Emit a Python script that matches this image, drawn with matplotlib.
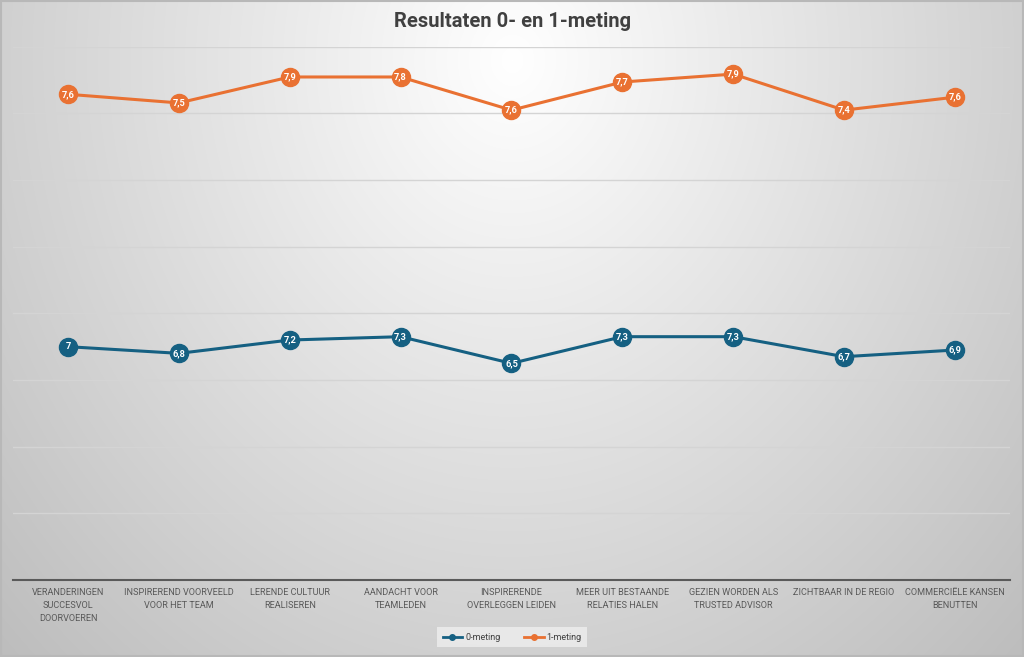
import numpy as np
import matplotlib
matplotlib.use("Agg")
import matplotlib.pyplot as plt
from matplotlib.lines import Line2D

# --- Data ---
categories = [
    "VERANDERINGEN\nSUCCESVOL\nDOORVOEREN",
    "INSPIREREND VOORVEELD\nVOOR HET TEAM",
    "LERENDE CULTUUR\nREALISEREN",
    "AANDACHT VOOR\nTEAMLEDEN",
    "INSPIRERENDE\nOVERLEGGEN LEIDEN",
    "MEER UIT BESTAANDE\nRELATIES HALEN",
    "GEZIEN WORDEN ALS\nTRUSTED ADVISOR",
    "ZICHTBAAR IN DE REGIO",
    "COMMERCIËLE KANSEN\nBENUTTEN",
]
meting0 = [7.0, 6.8, 7.2, 7.3, 6.5, 7.3, 7.3, 6.7, 6.9]
labels0 = ["7", "6,8", "7,2", "7,3", "6,5", "7,3", "7,3", "6,7", "6,9"]
# 1-meting sits on its own (hidden) secondary axis in the original chart
meting1 = [7.64, 7.52, 7.88, 7.88, 7.42, 7.81, 7.92, 7.42, 7.60]
labels1 = ["7,6", "7,5", "7,9", "7,8", "7,6", "7,7", "7,9", "7,4", "7,6"]

blauw = "#156082"
oranje = "#E97132"
plt.rcParams["font.family"] = ["Roboto", "DejaVu Sans"]

fig = plt.figure(figsize=(10.24, 6.57), dpi=100)

# --- achtergrond: radiale grijze gradient ---
bg = fig.add_axes([0, 0, 1, 1], zorder=-5)
yy, xx = np.mgrid[0:657, 0:1024]
r = np.sqrt(((xx - 512) / 600.0) ** 2 + ((yy - 60) / 700.0) ** 2)
grijs = np.clip(255 - 55 * r, 185, 255) / 255.0
bg.imshow(np.dstack([grijs, grijs, grijs]), aspect="auto", extent=[0, 1, 0, 1], origin="upper")
bg.set_axis_off()
bg.add_patch(plt.Rectangle((0.001, 0.002), 0.998, 0.996, fill=False, ec="#b8b8b8", lw=1.5,
                           transform=bg.transAxes))

ax = fig.add_axes([0.0123, 0.1172, 0.9744, 0.8117])
ax.patch.set_alpha(0)
x = np.arange(len(categories))

ax2 = ax.twinx()
ax2.patch.set_alpha(0)

ax.plot(x, meting0, color=blauw, lw=2.2, marker="o", ms=13, mfc=blauw, mec=blauw, zorder=3)
for i, (v, t) in enumerate(zip(meting0, labels0)):
    ax.text(i, v, t, ha="center", va="center", color="white", fontsize=6.7, fontweight="bold", zorder=4)

ax.set_xlim(-0.5, len(categories) - 0.5)
ax.set_ylim(0, 16)
ax.set_yticks(np.arange(0, 17, 2))
ax.yaxis.grid(True, color="#d4d4d4", lw=1)
ax.set_axisbelow(True)
ax.tick_params(axis="y", left=False, right=False, labelleft=False, labelright=False)
ax.set_xticks(x)
ax.set_xticklabels(categories, fontsize=6.6, color="#595959", linespacing=1.55, va="top")
ax.tick_params(axis="x", length=0, pad=6)
for s in ["top", "right", "left"]:
    ax.spines[s].set_visible(False)
ax.spines["bottom"].set_color("#5a5a5a")
ax.spines["bottom"].set_linewidth(1.5)

ax2.set_ylim(0.9, 8.3)
ax2.plot(x, meting1, color=oranje, lw=2.2, marker="o", ms=13, mfc=oranje, mec=oranje, zorder=3)
for i, (v, t) in enumerate(zip(meting1, labels1)):
    ax2.text(i, v, t, ha="center", va="center", color="white", fontsize=6.7, fontweight="bold", zorder=4)
ax2.set_axis_off()

fig.text(0.5, 0.968, "Resultaten 0- en 1-meting", ha="center", va="center",
         fontsize=14.5, fontweight="bold", color="#404040")

handles = [
    Line2D([], [], color=blauw, lw=2, marker="o", ms=4),
    Line2D([], [], color=oranje, lw=2, marker="o", ms=4),
]
leg = fig.legend(handles, ["0-meting", "1-meting"], loc="center", bbox_to_anchor=(0.5, 0.03),
                 ncol=2, fontsize=6.5, frameon=True, handlelength=2.2, handletextpad=0.3,
                 columnspacing=2.6, borderpad=0.6, fancybox=False)
leg.get_frame().set_facecolor("#eeeeee")
leg.get_frame().set_edgecolor("none")
for t in leg.get_texts():
    t.set_color("#404040")

fig.savefig("out.png", dpi=100)
